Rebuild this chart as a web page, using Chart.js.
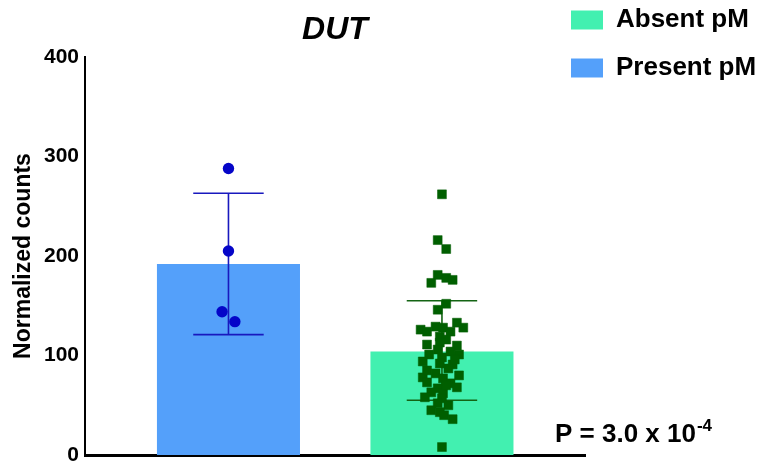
<!DOCTYPE html>
<html>
<head>
<meta charset="utf-8">
<script src="https://cdn.jsdelivr.net/npm/chart.js@4/dist/chart.umd.min.js"></script>
<style>
  body { margin: 0; background: #fff; }
  #wrap { width: 776px; height: 464px; position: relative; }
</style>
</head>
<body>
<div id="wrap"><canvas id="dutChart"></canvas></div>
<script>
// groups, in legend order
const groups = ["Absent pM", "Present pM"];
const groupX = [1, 0];
const groupMeans = [104, 192];
const errLow = [55, 121];
const errHigh = [155, 263];

// individual samples
const presentVals = [288, 205, 144, 134];
const presentJitter = [0, 0, -0.03, 0.03];
const absentVals = [262, 216, 207, 181, 173, 178, 176, 152, 146, 133,
  128, 126, 124, 129, 128, 124, 119, 116, 111, 113,
  110, 106, 104, 101, 101, 98, 94, 92, 91, 87,
  82, 78, 80, 77, 73, 72, 68, 67, 63, 62,
  57, 52, 50, 45, 43, 40, 36, 8, 85, 70, 96, 58];
const absentJitter = [0, -0.02, 0.02, -0.02, -0.05, 0.02, 0.05, 0.02, -0.02, 0.07,
  0.10, -0.10, -0.07, -0.03, 0.005, 0.04, -0.01, 0.02, -0.07, -0.01,
  0.07, -0.02, 0.04, 0.08, -0.06, 0, -0.09, -0.01, 0.05, 0.03,
  -0.03, -0.09, 0.08, 0.005, -0.07, 0.04, 0.07, -0.02, -0.05, 0.005,
  0, -0.02, 0.03, -0.05, -0.01, 0.01, 0.05, 0, -0.07, 0.02, 0.06, -0.08];

const yTicks = [0, 100, 200, 300, 400];
const pText = "P = 3.0 x 10";
const pExp = "-4";

const barColors = ["rgb(66,240,176)", "rgb(84,160,250)"];
const errColors = ["rgb(20,100,20)", "rgb(25,25,190)"];
const FONT = "'Liberation Sans', Arial, sans-serif";

const errorBars = {
  id: "errorBars",
  afterDatasetDraw(chart, args) {
    const i = args.index;
    if (i > 1) return;
    const ctx = chart.ctx;
    const xs = chart.scales.x, ys = chart.scales.y;
    const cx = xs.getPixelForValue(groupX[i]);
    const half = xs.getPixelForValue(groupX[i] + 0.165) - cx;
    const top = ys.getPixelForValue(errHigh[i]);
    const bot = ys.getPixelForValue(errLow[i]);
    ctx.save();
    ctx.strokeStyle = errColors[i];
    ctx.lineWidth = 1.6;
    ctx.beginPath();
    ctx.moveTo(cx, top); ctx.lineTo(cx, bot);
    ctx.moveTo(cx - half, top); ctx.lineTo(cx + half, top);
    ctx.moveTo(cx - half, bot); ctx.lineTo(cx + half, bot);
    ctx.stroke();
    ctx.restore();
  }
};

const pValue = {
  id: "pValue",
  afterDraw(chart) {
    const ctx = chart.ctx;
    ctx.save();
    ctx.fillStyle = "#000";
    ctx.textBaseline = "alphabetic";
    ctx.font = "bold 26px " + FONT;
    ctx.fillText(pText, 555, 442);
    const w = ctx.measureText(pText).width;
    ctx.font = "bold 17px " + FONT;
    ctx.fillText(pExp, 555 + w + 1, 431);
    ctx.restore();
  }
};

const legendShift = {
  id: "legendShift",
  afterLayout(chart) {
    chart.legend.left -= 36;
    chart.legend.top = -15;
  }
};

const datasets = groups.map((g, i) => ({
  type: "bar",
  label: g,
  data: [{ x: groupX[i], y: groupMeans[i] }],
  backgroundColor: barColors[i],
  borderWidth: 0,
  grouped: false,
  barPercentage: 0.67,
  categoryPercentage: 1,
  order: 3
}));

datasets.push({
  type: "scatter",
  label: "present points",
  data: presentVals.map((v, k) => ({ x: groupX[1] + presentJitter[k], y: v })),
  pointStyle: "circle",
  pointRadius: 5.7,
  backgroundColor: "rgb(5,5,200)",
  borderWidth: 0,
  order: 1
});
datasets.push({
  type: "scatter",
  label: "absent points",
  data: absentVals.map((v, k) => ({ x: groupX[0] + absentJitter[k], y: v })),
  pointStyle: "rect",
  pointRadius: 6.3,
  backgroundColor: "rgb(0,95,0)",
  borderColor: "rgb(0,95,0)",
  borderWidth: 0.5,
  order: 1
});

new Chart(document.getElementById("dutChart"), {
  data: { datasets },
  options: {
    responsive: true,
    maintainAspectRatio: false,
    animation: false,
    layout: { padding: 0 },
    plugins: {
      tooltip: { enabled: false },
      title: {
        display: true,
        text: "DUT",
        fullSize: false,
        color: "#000",
        font: { family: FONT, size: 32, weight: "bold", style: "italic" },
        padding: { top: 11, bottom: 7.6 }
      },
      legend: {
        position: "right",
        align: "start",
        maxWidth: 191,
        labels: {
          filter: (item) => item.datasetIndex < 2,
          boxWidth: 32,
          boxHeight: 19,
          padding: 22,
          color: "#000",
          font: { family: FONT, size: 26, weight: "bold" }
        }
      }
    },
    scales: {
      x: {
        type: "linear",
        offset: false,
        min: -0.672,
        max: 1.67,
        afterBuildTicks: (s) => { s.ticks = [0, 1].map(v => ({ value: v })); },
        ticks: { display: false },
        grid: { display: false, drawTicks: false },
        border: { display: true, color: "#000", width: 3 },
        afterFit: (s) => { s.height = 9; }
      },
      y: {
        min: 0,
        max: 400,
        afterBuildTicks: (s) => { s.ticks = yTicks.map(v => ({ value: v })); },
        ticks: {
          padding: 6,
          color: "#000",
          font: { family: FONT, size: 21, weight: "bold" }
        },
        grid: { display: false, drawTicks: false },
        border: { display: true, color: "#000", width: 2 },
        title: {
          display: true,
          text: "Normalized counts",
          color: "#000",
          font: { family: FONT, size: 23, weight: "bold" },
          padding: { top: 10, bottom: 0 }
        },
        afterFit: (s) => { s.width = 85; s.paddingTop = 0; s.paddingBottom = 0; }
      }
    }
  },
  plugins: [errorBars, pValue, legendShift]
});
</script>
</body>
</html>
